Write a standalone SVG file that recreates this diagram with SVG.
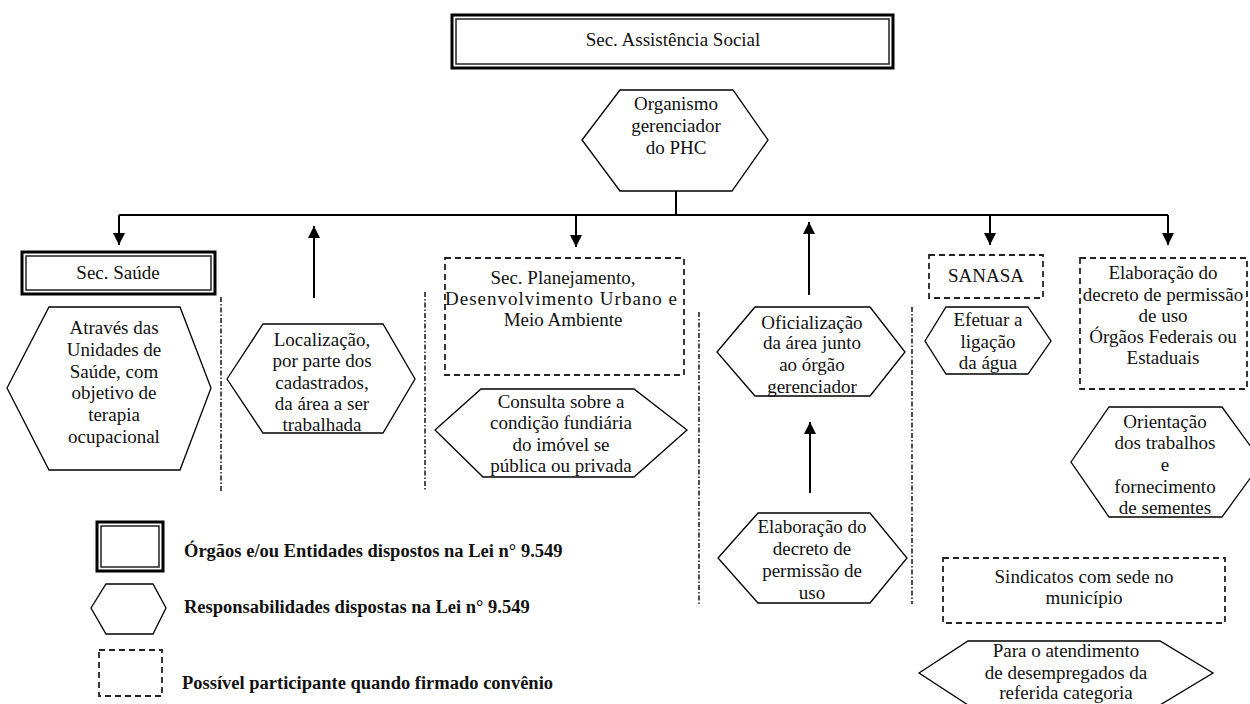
<svg xmlns="http://www.w3.org/2000/svg" width="1250" height="704" viewBox="0 0 1250 704">
<style>
  text { font-family: "Liberation Serif", "Times New Roman", serif; font-size: 19px; fill: #111; text-anchor: middle; }
  .legend { font-weight: bold; font-size: 18.5px; text-anchor: start; }
  .hex { fill: #fff; stroke: #000; stroke-width: 1.3; }
  .outer { fill: #fff; stroke: #000; stroke-width: 3; }
  .inner { fill: none; stroke: #222; stroke-width: 1.5; }
  .dash { fill: #fff; stroke: #222; stroke-width: 1.8; stroke-dasharray: 6 4; }
  .sep { fill: none; stroke: #222; stroke-width: 1.6; stroke-dasharray: 5 2 1.5 2; }
  .conn { fill: none; stroke: #000; stroke-width: 2; }
</style>
<defs>
  <marker id="arrow" markerUnits="userSpaceOnUse" markerWidth="12" markerHeight="14" viewBox="0 0 12 14" refX="12" refY="6" orient="auto">
    <path d="M0,0 L12,6 L0,12 Z" fill="#000"/>
  </marker>
</defs>
<rect width="1250" height="704" fill="#fff"/>

<g id="separators">
  <line class="sep" x1="221" y1="297" x2="221" y2="493"/>
  <line class="sep" x1="425" y1="292" x2="425" y2="490"/>
  <line class="sep" x1="699" y1="312" x2="699" y2="604"/>
  <line class="sep" x1="912" y1="307" x2="912" y2="604"/>
</g>

<g id="connectors">
  <line class="conn" x1="676" y1="182" x2="676" y2="215"/>
  <line class="conn" x1="119" y1="215" x2="1168" y2="215" stroke-width="2.5"/>
  <line class="conn" x1="119" y1="215" x2="119" y2="245" marker-end="url(#arrow)"/>
  <line class="conn" x1="576" y1="215" x2="576" y2="247" marker-end="url(#arrow)"/>
  <line class="conn" x1="990" y1="215" x2="990" y2="245" marker-end="url(#arrow)"/>
  <line class="conn" x1="1168" y1="215" x2="1168" y2="245" marker-end="url(#arrow)"/>
  <line class="conn" x1="314" y1="298" x2="314" y2="226" marker-end="url(#arrow)"/>
  <line class="conn" x1="809" y1="295" x2="809" y2="222" marker-end="url(#arrow)"/>
  <line class="conn" x1="810" y1="493" x2="810" y2="422" marker-end="url(#arrow)"/>
</g>

<g id="sec-assistencia">
  <rect class="outer" x="452" y="15" width="441" height="53"/>
  <rect class="inner" x="456" y="19" width="433" height="45"/>
  <text x="673" y="46">Sec. Assistência Social</text>
</g>

<g id="organismo">
  <polygon class="hex" points="582,140 620,90 733,90 768,140 732,191 620,191"/>
  <text x="676" y="110">Organismo</text>
  <text x="676" y="132">gerenciador</text>
  <text x="676" y="154">do PHC</text>
</g>

<g id="sec-saude">
  <rect class="outer" x="22" y="252" width="193" height="42"/>
  <rect class="inner" x="26" y="256" width="185" height="34"/>
  <text x="118" y="279">Sec. Saúde</text>
</g>

<g id="atraves">
  <polygon class="hex" points="7,388 49,307 180,307 211,388 180,470 49,470"/>
  <text x="114" y="334">Através das</text>
  <text x="114" y="356">Unidades de</text>
  <text x="114" y="378">Saúde, com</text>
  <text x="114" y="399">objetivo de</text>
  <text x="114" y="421">terapia</text>
  <text x="114" y="443">ocupacional</text>
</g>

<g id="localizacao">
  <polygon class="hex" points="227,379 263,324 383,324 415,379 383,433 263,433"/>
  <text x="322" y="346">Localização,</text>
  <text x="322" y="367">por parte dos</text>
  <text x="322" y="389">cadastrados,</text>
  <text x="322" y="410">da área a ser</text>
  <text x="322" y="431">trabalhada</text>
</g>

<g id="sec-planejamento">
  <rect class="dash" x="445" y="258" width="239" height="117"/>
  <text x="563" y="284">Sec. Planejamento,</text>
  <text x="561" y="305" textLength="232" lengthAdjust="spacing">Desenvolvimento Urbano e</text>
  <text x="563" y="326">Meio Ambiente</text>
</g>

<g id="consulta">
  <polygon class="hex" points="435,430 481,389 634,389 687,430 634,477 483,477"/>
  <text x="561" y="408">Consulta sobre a</text>
  <text x="561" y="429">condição fundiária</text>
  <text x="561" y="451">do imóvel se</text>
  <text x="561" y="472">pública ou privada</text>
</g>

<g id="oficializacao">
  <polygon class="hex" points="717,352 755,307 870,307 905,352 870,396 755,396"/>
  <text x="812" y="329">Oficialização</text>
  <text x="812" y="349">da área junto</text>
  <text x="812" y="371">ao órgão</text>
  <text x="812" y="393">gerenciador</text>
</g>

<g id="elaboracao-decreto">
  <polygon class="hex" points="718,558 758,513 870,513 907,558 870,603 758,603"/>
  <text x="812" y="533">Elaboração do</text>
  <text x="812" y="555">decreto de</text>
  <text x="812" y="577">permissão de</text>
  <text x="812" y="599">uso</text>
</g>

<g id="sanasa">
  <rect class="dash" x="929" y="255" width="114" height="43"/>
  <text x="986" y="282">SANASA</text>
</g>

<g id="efetuar">
  <polygon class="hex" points="925,341 946,307 1028,307 1051,341 1028,374 946,374"/>
  <text x="988" y="326">Efetuar a</text>
  <text x="988" y="348">ligação</text>
  <text x="988" y="369">da água</text>
</g>

<g id="orgaos-federais">
  <rect class="dash" x="1080" y="258" width="167" height="131"/>
  <text x="1163" y="279">Elaboração do</text>
  <text x="1163" y="301">decreto de permissão</text>
  <text x="1163" y="322">de uso</text>
  <text x="1163" y="343">Órgãos Federais ou</text>
  <text x="1163" y="364">Estaduais</text>
</g>

<g id="orientacao">
  <polygon class="hex" points="1071,462 1109,407 1222,407 1262,462 1222,517 1109,517"/>
  <text x="1165" y="428">Orientação</text>
  <text x="1165" y="449">dos trabalhos</text>
  <text x="1165" y="471">e</text>
  <text x="1165" y="493">fornecimento</text>
  <text x="1165" y="514">de sementes</text>
</g>

<g id="sindicatos">
  <rect class="dash" x="943" y="558" width="282" height="65"/>
  <text x="1084" y="583">Sindicatos com sede no</text>
  <text x="1084" y="604">município</text>
</g>

<g id="atendimento">
  <polygon class="hex" points="919,673 968,641 1160,641 1213,673 1160,705 968,705"/>
  <text x="1066" y="657">Para o atendimento</text>
  <text x="1066" y="679">de desempregados da</text>
  <text x="1066" y="699">referida categoria</text>
</g>

<g id="legend">
  <rect class="outer" x="97" y="522" width="66" height="49"/>
  <rect class="inner" x="101" y="526" width="58" height="41"/>
  <text class="legend" x="184" y="557">Órgãos e/ou Entidades dispostos na Lei n° 9.549</text>
  <polygon class="hex" points="91,608 106,584 153,584 166,608 153,634 106,634"/>
  <text class="legend" x="184" y="613">Responsabilidades dispostas na Lei n° 9.549</text>
  <rect class="dash" x="99" y="650" width="63" height="46"/>
  <text class="legend" x="182" y="689">Possível participante quando firmado convênio</text>
</g>
</svg>
